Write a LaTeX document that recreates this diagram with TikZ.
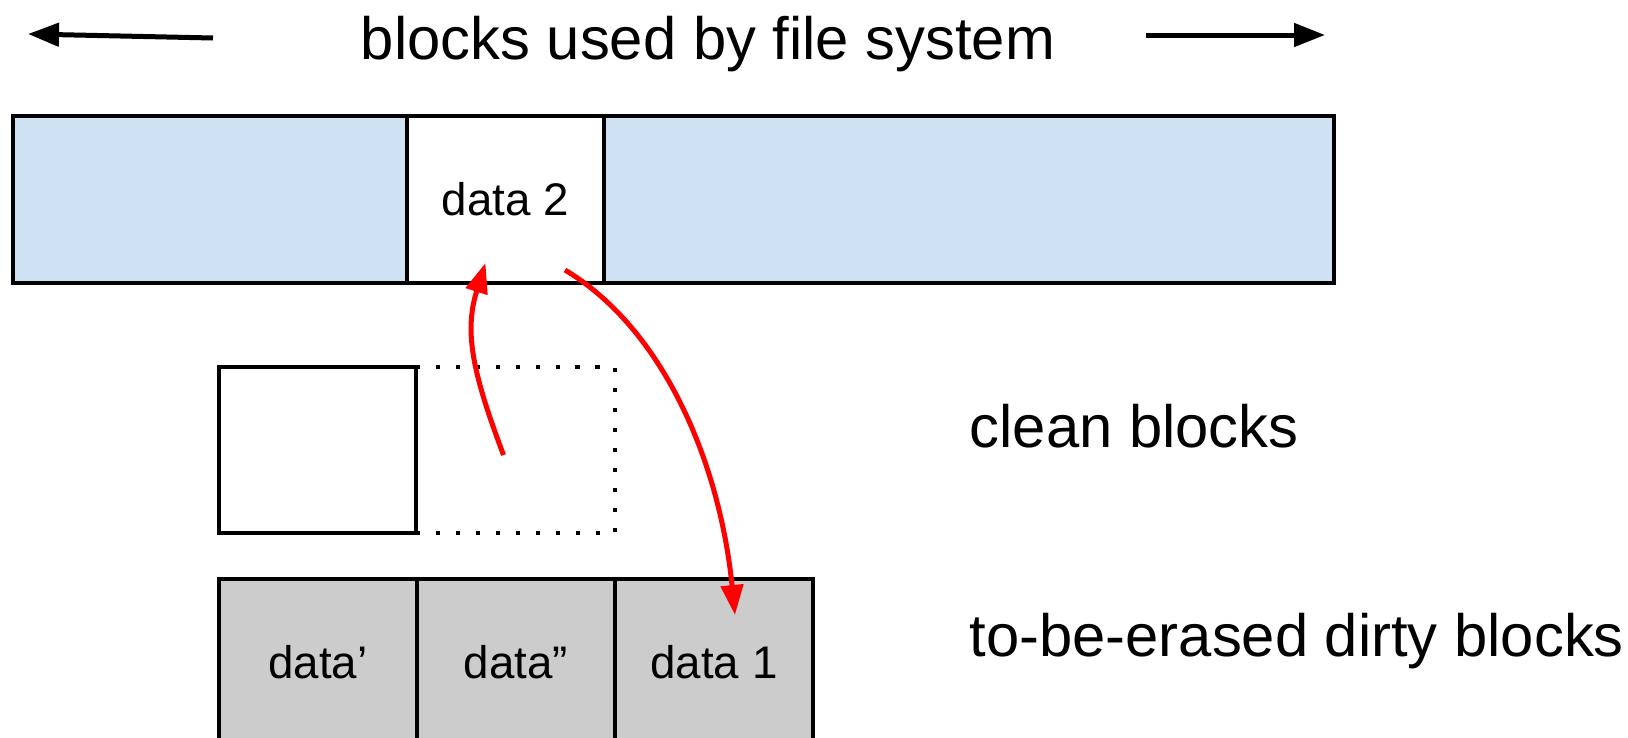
\documentclass[tikz,border=0pt]{standalone}
\usepackage{fontspec}
\setmainfont{Liberation Sans}
\usetikzlibrary{positioning,calc,arrows.meta}
\definecolor{fsblue}{HTML}{CFE2F3}
\definecolor{dirtygray}{HTML}{CCCCCC}

\begin{document}
\begin{tikzpicture}[x=0.1mm,y=-0.1mm,
  cell/.style={draw,line width=0.45mm,outer sep=0pt,inner sep=0pt,minimum height=16.7mm,font=\fontsize{13}{15}\selectfont},
  used/.style={cell,fill=fsblue},
  dirty/.style={cell,fill=dirtygray,minimum width=19.8mm},
  label/.style={inner sep=0pt,font=\fontsize{17}{20}\selectfont},
  span/.style={line width=0.5mm,-{Triangle[length=3.1mm,width=2.3mm]}},
  move/.style={red,line width=0.5mm,-{Triangle[length=3mm,width=2.2mm]}}]
\useasboundingbox (0,0) rectangle (1628,738);
% title and its arrows
\node[label,anchor=base] (title) at (708,59) {blocks used by file system};
\coordinate (lefttail) at (213,38);
\coordinate (lefttip) at (28,34);
\coordinate (righttail) at (1146,35);
\coordinate (righttip) at (1325,35);
\draw[span] (lefttail) -- (lefttip);
\draw[span] (righttail) -- (righttip);
% blocks of the file system
\node[used,minimum width=39.4mm,anchor=north west] (fsleft) at (13,116) {};
\node[cell,fill=white,minimum width=19.7mm,right=0pt of fsleft] (data2) {data 2};
\node[used,minimum width=73mm,right=0pt of data2] (fsright) {};
% clean blocks
\node[cell,minimum width=19.7mm,minimum height=16.6mm,anchor=north west] (clean1) at (219,367) {};
\node[cell,dash pattern=on 0.45mm off 1.55mm,minimum width=19.9mm,minimum height=16.6mm,right=0pt of clean1] (clean2) {};
\node[label,anchor=base west] (cleanlbl) at (969,447) {clean blocks};
% dirty blocks
\node[dirty,anchor=north west] (dirty1) at (219,579) {data’};
\node[dirty,right=0pt of dirty1] (dirty2) {data”};
\node[dirty,right=0pt of dirty2] (dirty3) {data 1};
\node[label,anchor=base west] (dirtylbl) at (969,656) {to-be-erased dirty blocks};
% moves
\draw[move] ($(clean2.center)+(-12,5)$) .. controls +(-30,-80) and +(-22,70) .. ($(data2.south)+(-20,-20)$);
\draw[move] ($(data2.south east)+(-39,-13)$) .. controls +(100,60) and +(-15,-150) .. ($(dirty3.north)+(21,36)$);
\end{tikzpicture}
\end{document}
